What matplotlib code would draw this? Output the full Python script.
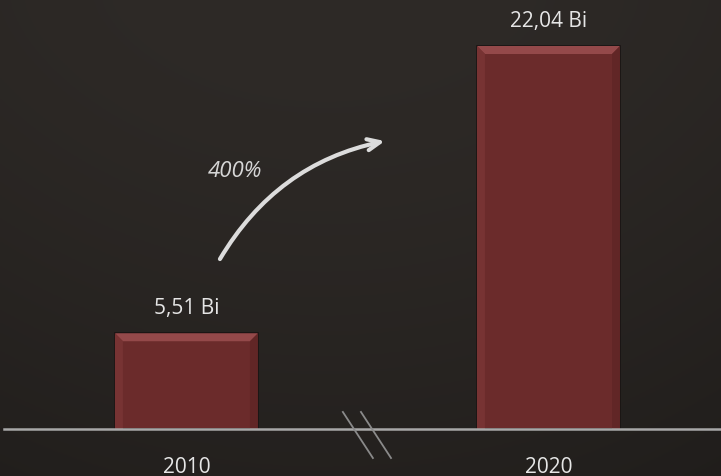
import numpy as np
import matplotlib
matplotlib.use('Agg')
import matplotlib.pyplot as plt
from matplotlib.patches import Polygon

# Dados
anos = ['2010', '2020']
valores = [5.51, 22.04]
rotulos = ['5,51 Bi', '22,04 Bi']
crescimento = '400%'

plt.rcParams['font.family'] = ['Open Sans', 'DejaVu Sans']

fig = plt.figure(figsize=(7.21, 4.77), dpi=100)
ax = fig.add_axes([0, 0, 1, 1])
ax.set_xlim(-0.515, 1.4765)
ax.set_ylim(-2.705, 24.745)
ax.axis('off')

# Fundo escuro (madeira) com leve vinheta
ny, nx = 200, 300
yy, xx = np.mgrid[0:1:ny * 1j, 0:1:nx * 1j]
brilho = 1.0 - 0.25 * (xx - 0.45) ** 2 - 0.22 * (1 - yy) ** 1.5
base = np.array([0x2e, 0x2a, 0x27]) / 255.0
img = np.clip(base[None, None, :] * brilho[:, :, None], 0, 1)
ax.imshow(img, extent=[-0.515, 1.4765, -2.705, 24.745], origin='lower',
          aspect='auto', zorder=0)

# Barras
x = np.arange(len(anos))
largura = 0.395
barras = ax.bar(x, valores, width=largura, color='#6b2b2b',
                edgecolor='#1a1413', linewidth=1.2, zorder=2)

# Efeito de chanfro nas barras
bx, by = 0.022, 0.46
for b in barras:
    x0, y0 = b.get_x(), b.get_y()
    x1, y1 = x0 + b.get_width(), y0 + b.get_height()
    cantos = dict(
        topo=([(x0, y1), (x1, y1), (x1 - bx, y1 - by), (x0 + bx, y1 - by)], '#94494a'),
        esq=([(x0, y0), (x0, y1), (x0 + bx, y1 - by), (x0 + bx, y0)], '#773333'),
        dir=([(x1, y0), (x1, y1), (x1 - bx, y1 - by), (x1 - bx, y0)], '#612626'),
    )
    for pts, cor in cantos.values():
        ax.add_patch(Polygon(pts, closed=True, color=cor, lw=0, zorder=3))

# Rótulos de valores
for xi, v, r in zip(x, valores, rotulos):
    ax.annotate(r, (xi, v), xytext=(0, 11), textcoords='offset points',
                ha='center', va='bottom', fontsize=15, color='#e6e6e6', zorder=4)

# Rótulos dos anos
for xi, a in zip(x, anos):
    ax.annotate(a, (xi, 0), xytext=(0, -31), textcoords='offset points',
                ha='center', va='baseline', fontsize=15, color='#e6e6e6', zorder=4)

# Linha base
ax.axhline(0, xmin=0.005, xmax=1, color='#a8a8a8', lw=1.8, zorder=4)

# Marca de quebra no eixo
for dx in (0.0, 0.05):
    ax.plot([0.432 + dx, 0.515 + dx], [0.98, -1.67], color='#8a8a8a', lw=1.3, zorder=4)

# Seta de crescimento
ax.annotate('', xy=(0.548, 16.57), xytext=(0.0925, 9.78),
            arrowprops=dict(arrowstyle='->,head_length=0.9,head_width=0.4',
                            connectionstyle='arc3,rad=-0.22',
                            color='#dcdcdc', lw=3,
                            shrinkA=0, shrinkB=0), zorder=5)
ax.text(0.134, 14.85, crescimento, ha='center', va='center', fontsize=16,
        style='italic', color='#d6d6d6', zorder=5)

plt.savefig('out.png', dpi=100)
